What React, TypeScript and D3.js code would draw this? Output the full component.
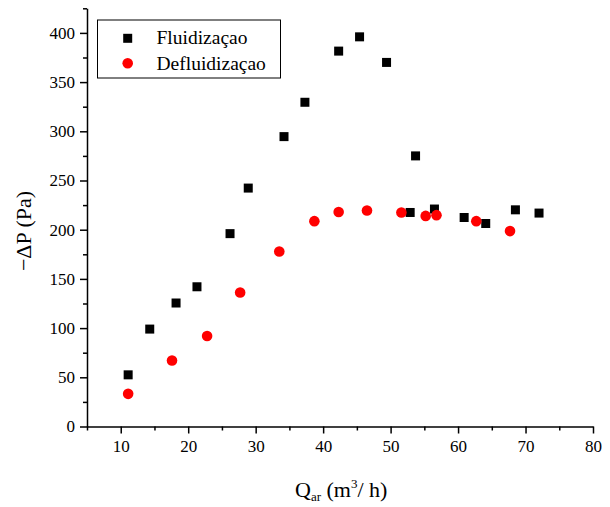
import { useEffect, useRef } from 'react';
import * as d3 from 'd3';

// Fluidização (squares)
const fluidQ = [11.1, 14.3, 18.2, 21.3, 26.2, 28.9, 34.2, 37.3, 42.3, 45.4, 49.4, 53.7, 52.9, 56.5, 60.9, 64.1, 68.5, 72.0];
const fluidP = [52.5, 99, 125.5, 142, 196, 242.3, 294.6, 329.5, 381.5, 396, 370, 275, 217.5, 221, 212.4, 206.3, 220.2, 216.9];

// Defluidização (circles)
const defluidQ = [11.1, 17.6, 22.8, 27.7, 33.5, 38.7, 42.3, 46.5, 51.6, 55.2, 56.8, 62.7, 67.7];
const defluidP = [33.2, 67, 92, 136.2, 177.8, 208.7, 218, 219.5, 217.5, 214, 214.8, 208.7, 198.6];

const xTicks = [10, 20, 30, 40, 50, 60, 70, 80];
const xMinor = [5, 15, 25, 35, 45, 55, 65, 75];
const yTicks = [0, 50, 100, 150, 200, 250, 300, 350, 400];
const yMinor = [25, 75, 125, 175, 225, 275, 325, 375, 425];

const FONT = "'Liberation Serif', 'Times New Roman', Times, 'DejaVu Serif', serif";

export default function App() {
  const svgRef = useRef<SVGSVGElement>(null);

  useEffect(() => {
    if (!svgRef.current) return;
    const svg = d3.select(svgRef.current);
    svg.selectAll('*').remove();

    const x = d3.scaleLinear().domain([5, 80]).range([87, 593]);
    const y = d3.scaleLinear().domain([0, 425]).range([426.5, 8.3]);

    // minor ticks
    svg
      .append('g')
      .attr('transform', 'translate(0,426.5)')
      .call(d3.axisBottom(x).tickValues(xMinor).tickSize(4).tickFormat(() => ''))
      .call((g) => g.select('.domain').remove())
      .selectAll('line')
      .attr('stroke-width', 1.5);
    svg
      .append('g')
      .attr('transform', 'translate(87,0)')
      .call(d3.axisLeft(y).tickValues(yMinor).tickSize(4).tickFormat(() => ''))
      .call((g) => g.select('.domain').remove())
      .selectAll('line')
      .attr('stroke-width', 1.5);

    // x axis
    const gx = svg
      .append('g')
      .attr('transform', 'translate(0,426.5)')
      .call(d3.axisBottom(x).tickValues(xTicks).tickSize(7).tickSizeOuter(0).tickPadding(6));
    gx.select('.domain').attr('stroke-width', 1.5);
    gx.selectAll('line').attr('stroke-width', 1.5);
    gx.attr('font-family', null);
    gx.selectAll('text').style('font-family', FONT).style('font-size', '17px').attr('fill', '#000');

    // y axis
    const gy = svg
      .append('g')
      .attr('transform', 'translate(87,0)')
      .call(d3.axisLeft(y).tickValues(yTicks).tickSize(7).tickSizeOuter(0).tickPadding(5));
    gy.select('.domain').attr('stroke-width', 1.5);
    gy.selectAll('line').attr('stroke-width', 1.5);
    gy.attr('font-family', null);
    gy.selectAll('text').style('font-family', FONT).style('font-size', '17px').attr('fill', '#000');

    // squares
    svg
      .append('g')
      .selectAll('rect')
      .data(d3.range(fluidQ.length))
      .enter()
      .append('rect')
      .attr('x', (i) => x(fluidQ[i]) - 4.5)
      .attr('y', (i) => y(fluidP[i]) - 4.5)
      .attr('width', 9)
      .attr('height', 9)
      .attr('fill', '#000');

    // circles
    svg
      .append('g')
      .selectAll('circle')
      .data(d3.range(defluidQ.length))
      .enter()
      .append('circle')
      .attr('cx', (i) => x(defluidQ[i]))
      .attr('cy', (i) => y(defluidP[i]))
      .attr('r', 5.3)
      .attr('fill', '#ff0000');

    // legend
    const lg = svg.append('g');
    lg.append('rect')
      .attr('x', 97.5)
      .attr('y', 20)
      .attr('width', 183)
      .attr('height', 58)
      .attr('fill', '#fff')
      .attr('stroke', '#000')
      .attr('stroke-width', 1);
    lg.append('rect').attr('x', 123.2).attr('y', 33.8).attr('width', 9).attr('height', 9).attr('fill', '#000');
    lg.append('circle').attr('cx', 127.7).attr('cy', 63.3).attr('r', 5.3).attr('fill', '#ff0000');
    lg.append('text')
      .attr('x', 156.5)
      .attr('y', 43.5)
      .style('font-family', FONT)
      .style('font-size', '19.5px')
      .text('Fluidizaçao');
    lg.append('text')
      .attr('x', 156.5)
      .attr('y', 69.5)
      .style('font-family', FONT)
      .style('font-size', '19.5px')
      .text('Defluidizaçao');

    // y title
    svg
      .append('text')
      .attr('transform', 'translate(31,231) rotate(-90)')
      .attr('text-anchor', 'middle')
      .style('font-family', FONT)
      .style('font-size', '22px')
      .text('\u2212\u0394P (Pa)');

    // x title
    const xt = svg
      .append('text')
      .attr('x', 295)
      .attr('y', 497)
      .style('font-family', FONT)
      .style('font-size', '22px');
    xt.append('tspan').text('Q');
    xt.append('tspan').style('font-size', '13px').attr('dy', 4).text('ar');
    xt.append('tspan').attr('dy', -4).text(' (m');
    xt.append('tspan').style('font-size', '13px').attr('dy', -9).text('3');
    xt.append('tspan').attr('dy', 9).text('/ h)');
  }, []);

  return (
    <svg
      ref={svgRef}
      width={610}
      height={507}
      style={{ position: 'absolute', left: 0, top: 0, background: '#fff' }}
    />
  );
}
